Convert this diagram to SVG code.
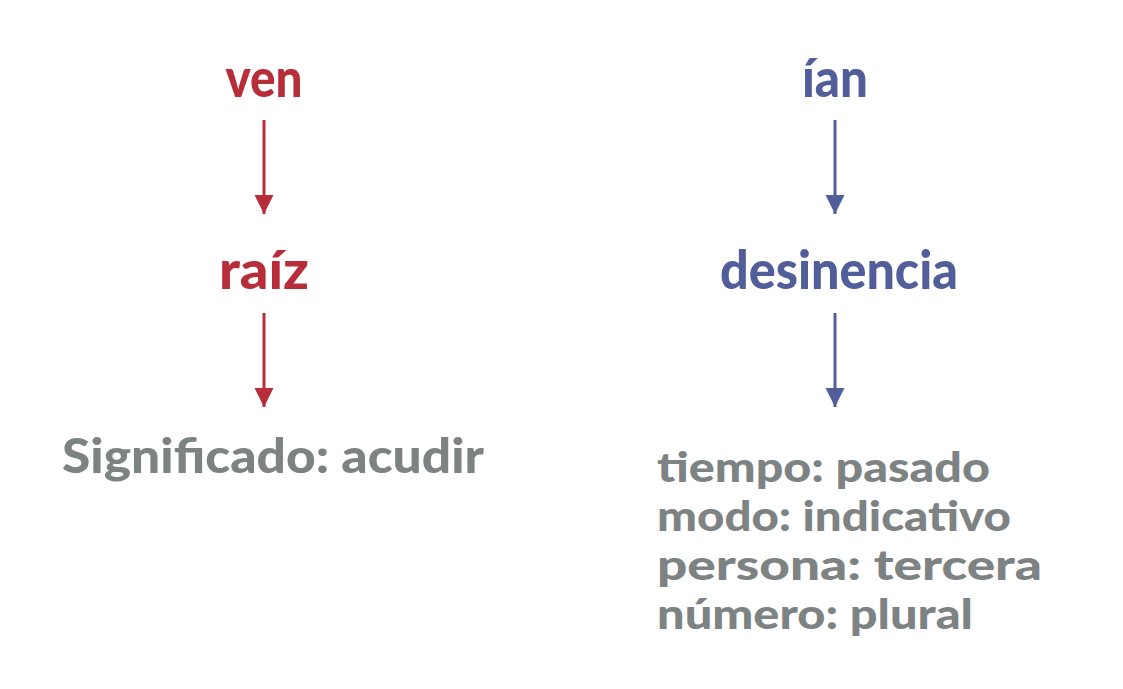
<svg xmlns="http://www.w3.org/2000/svg" width="1123" height="689" viewBox="0 0 1123 689">
<style>
text{font-family:"Lato","Open Sans","Liberation Sans",sans-serif;font-weight:900;}
.r{fill:#B82D3A;font-size:54px;}
.b{fill:#525E9A;font-size:54px;}
.g{fill:#7D8283;font-size:47px;}
.gl{fill:#7D8283;font-size:42px;}
.lr{stroke:#B82D3A;stroke-width:3;fill:none;}
.lb{stroke:#525E9A;stroke-width:3;fill:none;}
</style>
<defs>
<marker id="ar" viewBox="0 0 10 10" refX="10" refY="5" markerWidth="6.5" markerHeight="6.5" markerUnits="strokeWidth" orient="auto"><path d="M0,0 L10,5 L0,10 z" fill="#B82D3A"/></marker>
<marker id="ab" viewBox="0 0 10 10" refX="10" refY="5" markerWidth="6.5" markerHeight="6.5" markerUnits="strokeWidth" orient="auto"><path d="M0,0 L10,5 L0,10 z" fill="#525E9A"/></marker>
</defs>
<rect width="1123" height="689" fill="#ffffff"/>
<g id="n-ven"><text class="r" x="264" y="97" text-anchor="middle" textLength="77" lengthAdjust="spacingAndGlyphs">ven</text></g>
<g id="n-raiz"><text class="r" x="264" y="289" text-anchor="middle" textLength="90" lengthAdjust="spacingAndGlyphs">raíz</text></g>
<g id="n-sig"><text class="g" x="62" y="473" textLength="422" lengthAdjust="spacingAndGlyphs">Significado: acudir</text></g>
<g id="n-ian"><text class="b" x="835" y="97" text-anchor="middle" textLength="66" lengthAdjust="spacingAndGlyphs">ían</text></g>
<g id="n-des"><text class="b" x="839" y="289" text-anchor="middle" textLength="238" lengthAdjust="spacingAndGlyphs">desinencia</text></g>
<g id="n-info">
<text class="gl" x="657" y="482" textLength="333" lengthAdjust="spacingAndGlyphs">tiempo: pasado</text>
<text class="gl" x="657" y="531" textLength="354" lengthAdjust="spacingAndGlyphs">modo: indicativo</text>
<text class="gl" x="657" y="580" textLength="385" lengthAdjust="spacingAndGlyphs">persona: tercera</text>
<text class="gl" x="657" y="629" textLength="316" lengthAdjust="spacingAndGlyphs">número: plural</text>
</g>
<g id="connectors">
<line class="lr" x1="264" y1="120" x2="264" y2="214" marker-end="url(#ar)"/>
<line class="lr" x1="264" y1="313" x2="264" y2="407" marker-end="url(#ar)"/>
<line class="lb" x1="835" y1="120" x2="835" y2="214" marker-end="url(#ab)"/>
<line class="lb" x1="835" y1="313" x2="835" y2="407" marker-end="url(#ab)"/>
</g>
</svg>
